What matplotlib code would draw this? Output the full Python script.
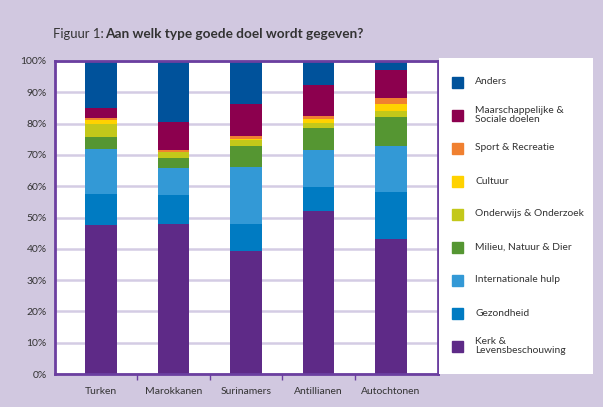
import numpy as np
import matplotlib.pyplot as plt
from matplotlib.patches import Rectangle

plt.rcParams['font.family'] = ['Lato', 'DejaVu Sans']

groups = ['Turken', 'Marokkanen', 'Surinamers', 'Antillianen', 'Autochtonen']

# percentages per category, bottom to top
kerk = [47.5, 47.8, 39.2, 52.0, 43.0]
gezondheid = [9.9, 9.3, 8.6, 7.7, 15.1]
internationaal = [14.4, 8.7, 18.3, 11.8, 14.7]
milieu = [3.9, 3.1, 6.7, 7.0, 9.3]
onderwijs = [4.1, 1.9, 2.1, 1.8, 2.0]
cultuur = [1.3, 0.2, 0.2, 1.2, 2.1]
sport = [0.6, 0.6, 0.9, 0.8, 1.9]
maatschappelijk = [3.2, 8.8, 10.2, 10.0, 9.1]
anders = [15.1, 19.6, 13.8, 7.7, 2.8]

series = [
    ('Kerk &\nLevensbeschouwing', kerk, '#5E2A87'),
    ('Gezondheid', gezondheid, '#007BC2'),
    ('Internationale hulp', internationaal, '#3399D6'),
    ('Milieu, Natuur & Dier', milieu, '#559632'),
    ('Onderwijs & Onderzoek', onderwijs, '#C3C81A'),
    ('Cultuur', cultuur, '#FFD200'),
    ('Sport & Recreatie', sport, '#F08030'),
    ('Maarschappelijke &\nSociale doelen', maatschappelijk, '#8C004E'),
    ('Anders', anders, '#00529B'),
]

bg = '#D1C8E0'
purple = '#6B3FA0'
W, H = 603, 407

fig = plt.figure(figsize=(W / 100, H / 100), dpi=100, facecolor=bg)
ax = fig.add_axes([55 / W, (H - 374) / H, 383 / W, 313 / H])

x = np.arange(len(groups))
bottom = np.zeros(len(groups))
for name, vals, col in series:
    ax.bar(x, vals, width=0.44, bottom=bottom, color=col, linewidth=0, zorder=2)
    bottom += np.array(vals)

ax.set_xlim(-0.634, 4.648)
ax.set_ylim(0, 100)
ax.set_yticks(range(0, 101, 10))
ax.set_yticklabels([f'{v}%' for v in range(0, 101, 10)], fontsize=7.5, color='#333333')
ax.set_xticks(x)
ax.set_xticklabels(groups, fontsize=7.5, color='#333333')
ax.set_xticks(x[:-1] + 0.5, minor=True)
ax.tick_params(axis='x', which='major', length=0, pad=9)
ax.tick_params(axis='x', which='minor', length=4, width=1, color=purple, direction='out')
ax.tick_params(axis='y', length=0, pad=6)
ax.yaxis.grid(True, color='#D4CCE4', linewidth=1.8, zorder=0)
ax.set_axisbelow(True)
for s in ax.spines.values():
    s.set_color(purple)
    s.set_linewidth(2)

fig.text(53 / W, 1 - 34 / H, 'Figuur 1: ', fontsize=9.4, color='#333333', va='center')
fig.text(105 / W, 1 - 34 / H, 'Aan welk type goede doel wordt gegeven?', fontsize=9.8,
         fontweight='bold', color='#333333', va='center')

# legend panel
lax = fig.add_axes([439 / W, (H - 374) / H, 154 / W, 316 / H])
lax.set_facecolor('white')
lax.set_xlim(0, 154)
lax.set_ylim(316, 0)
lax.set_xticks([])
lax.set_yticks([])
for s in lax.spines.values():
    s.set_visible(False)
for i, (name, vals, col) in enumerate(reversed(series)):
    cy = 24 + i * 33
    lax.add_patch(Rectangle((13, cy - 5.5), 11, 11, color=col))
    lax.text(36, cy, name, fontsize=7.4, color='#333333', va='center', linespacing=1.1)

plt.savefig('out.png', dpi=100, facecolor=bg)
